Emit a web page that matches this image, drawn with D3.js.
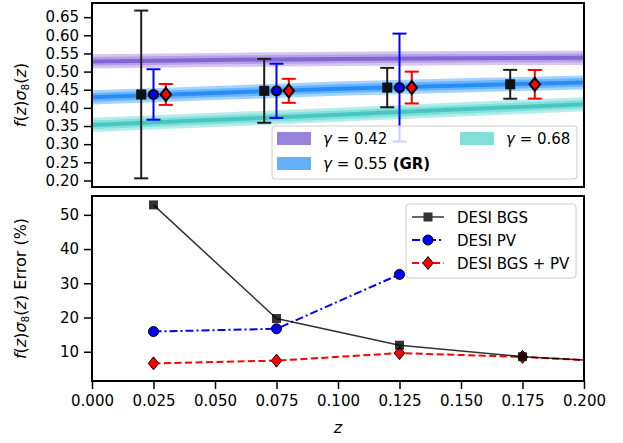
<!DOCTYPE html>
<html><head><meta charset="utf-8">
<script src="https://cdn.jsdelivr.net/npm/d3@7"></script>
<style>body{margin:0;background:#fff}svg{font-family:"DejaVu Sans",sans-serif}</style>
</head><body><svg id="c" width="623" height="443"></svg>
<script>
// ---------- data ----------
const zBins = [0.025, 0.075, 0.125, 0.175];
const fs8Fid = [0.437, 0.447, 0.456, 0.465];
const errBGS = [52.9, 19.7, 11.9, 8.55];      // %
const errPV = [15.9, 16.7, 32.6];            // %
const errBoth = [6.6, 7.4, 9.6, 8.5];        // %
const zBinsExt = [0.025, 0.075, 0.125, 0.175, 0.225];
const errBGSExt = [52.9, 19.7, 11.9, 8.55, 6.6];
const errBothExt = [6.6, 7.4, 9.6, 8.5, 6.6];
const zBand = [0, 0.05, 0.1, 0.15, 0.2];
const band042 = [0.528, 0.532, 0.535, 0.537, 0.538];
const band055 = [0.429, 0.441, 0.453, 0.462, 0.470];
const band068 = [0.353, 0.367, 0.381, 0.396, 0.410];
const bandHalfOuter = 0.0195, bandHalfMid = 0.012, bandHalfInner = 0.0055;
const xTicks = [0, 0.025, 0.05, 0.075, 0.1, 0.125, 0.15, 0.175, 0.2];
const yTicksTop = [0.20,0.25,0.30,0.35,0.40,0.45,0.50,0.55,0.60,0.65];
const yTicksBot = [10,20,30,40,50];
const offsets = {bgs:-0.005, pv:0, both:0.005};

// ---------- layout ----------
const L = 92, R = 584;
const top1 = 3, bot1 = 187, top2 = 196, bot2 = 381;
const svg = d3.select("#c");
const x = d3.scaleLinear().domain([0, 0.2]).range([L, R]);
const yT = d3.scaleLinear().domain([0.182, 0.689]).range([bot1, top1]);
const yB = d3.scaleLinear().domain([1.45, 55.5]).range([bot2, top2]);
const FS = 15;

const defs = svg.append("defs");
defs.append("clipPath").attr("id","cp1").append("rect").attr("x",L).attr("y",top1).attr("width",R-L).attr("height",bot1-top1);
defs.append("clipPath").attr("id","cp2").append("rect").attr("x",L).attr("y",top2).attr("width",R-L).attr("height",bot2-top2);

// ---------- top panel ----------
const g1 = svg.append("g").attr("clip-path","url(#cp1)");
const bands = [
  {v: band042, base:"147,112,219", line:"#7459cc"},
  {v: band055, base:"30,144,255", line:"#1a82f5"},
  {v: band068, base:"72,209,204", line:"#38c0b6"}
];
bands.forEach(b => {
  const pts = zBand.map((z,i)=>({z, v:b.v[i]}));
  [[bandHalfOuter,0.4],[bandHalfMid,0.45]].forEach(([h,a]) => {
    g1.append("path").datum(pts)
      .attr("d", d3.area().x(d=>x(d.z)).y0(d=>yT(d.v-h)).y1(d=>yT(d.v+h)))
      .attr("fill",`rgba(${b.base},${a})`);
  });
  g1.append("path").datum(pts)
    .attr("d", d3.area().x(d=>x(d.z)).y0(d=>yT(d.v-bandHalfInner)).y1(d=>yT(d.v+bandHalfInner)))
    .attr("fill", b.line).attr("opacity",0.8);
});

function errbar(g, zs, vals, errs, off, color, mk) {
  zs.forEach((z,i) => {
    if (errs[i] === undefined) return;
    const v = vals[i], e = v*errs[i]/100;
    const cx = x(z+off);
    g.append("line").attr("x1",cx).attr("x2",cx).attr("y1",yT(v-e)).attr("y2",yT(v+e)).attr("stroke",color).attr("stroke-width",2);
    [v-e, v+e].forEach(w => g.append("line").attr("x1",cx-7).attr("x2",cx+7).attr("y1",yT(w)).attr("y2",yT(w)).attr("stroke",color).attr("stroke-width",2));
    mk(g, cx, yT(v));
  });
}
const sq = (c,s)=> (g,cx,cy)=>g.append("rect").attr("x",cx-s/2).attr("y",cy-s/2).attr("width",s).attr("height",s).attr("fill",c);
const circ = (c,r,sw)=> (g,cx,cy)=>g.append("circle").attr("cx",cx).attr("cy",cy).attr("r",r).attr("fill",c).attr("stroke","#000").attr("stroke-width",sw);
const diam = (c,h,sw)=> (g,cx,cy)=>g.append("path").attr("d",`M${cx},${cy-h}L${cx+h*0.8},${cy}L${cx},${cy+h}L${cx-h*0.8},${cy}Z`).attr("fill",c).attr("stroke","#000").attr("stroke-width",sw);

const gE = svg.append("g").attr("clip-path","url(#cp1)");
errbar(gE, zBins, fs8Fid, errBGS, offsets.bgs, "#1e1e1e", sq("#111",10));
errbar(gE, zBins, fs8Fid, errPV, offsets.pv, "#0000ff", circ("#0000ff",4.5,2));
errbar(gE, zBins, fs8Fid, errBoth, offsets.both, "#ff0000", diam("#ff0000",6.5,2));

// top legend
const lg1 = svg.append("g");
lg1.append("rect").attr("x",272).attr("y",126).attr("width",305).attr("height",53).attr("rx",3)
  .attr("fill","rgba(255,255,255,0.8)").attr("stroke","#cccccc").attr("stroke-width",1);
const legTop = [
  {px:277, py:132, col:"#9783d9", tx:323, val:"0.42"},
  {px:277, py:157, col:"#63b1fb", tx:323, val:"0.55", gr:true},
  {px:460, py:132, col:"#80dfd9", tx:506, val:"0.68"}
];
legTop.forEach(d => {
  lg1.append("rect").attr("x",d.px).attr("y",d.py).attr("width",34).attr("height",13).attr("fill",d.col);
  const t = lg1.append("text").attr("x",d.tx).attr("y",d.py+11.5).attr("font-size",FS);
  t.append("tspan").attr("font-style","italic").text("γ");
  t.append("tspan").text(" = " + d.val);
  if (d.gr) t.append("tspan").attr("font-weight","bold").text(" (GR)");
});

// top frame & axis
const ax1 = svg.append("g").attr("transform",`translate(${L},0)`)
  .call(d3.axisLeft(yT).tickValues(yTicksTop).tickFormat(d3.format(".2f")).tickSize(8).tickPadding(5));
ax1.select(".domain").remove();
ax1.selectAll(".tick line").attr("stroke-width",1.5);
ax1.selectAll("text").attr("font-size",FS).attr("font-family","DejaVu Sans").attr("fill","#000");
svg.append("rect").attr("x",L).attr("y",top1).attr("width",R-L).attr("height",bot1-top1).attr("fill","none").attr("stroke","#000").attr("stroke-width",2);

// ---------- bottom panel ----------
const g2 = svg.append("g").attr("clip-path","url(#cp2)");
const lineGen = (xs) => d3.line().x((d,i)=>x(xs[i])).y(d=>yB(d));
g2.append("path").datum(errBothExt).attr("d", lineGen(zBinsExt)).attr("fill","none").attr("stroke","#ff0000").attr("stroke-width",2).attr("stroke-dasharray","7,3.5");
g2.append("path").datum(errPV).attr("d", lineGen(zBins)).attr("fill","none").attr("stroke","#0000ff").attr("stroke-width",2).attr("stroke-dasharray","8,3,2,3");
errBoth.forEach((v,i)=>diam("#ff0000",6.5,1)(g2, x(zBins[i]), yB(v)));
errPV.forEach((v,i)=>circ("#0000ff",5,1)(g2, x(zBins[i]), yB(v)));
g2.append("path").datum(errBGSExt).attr("d", lineGen(zBinsExt)).attr("fill","none").attr("stroke","#000").attr("stroke-opacity",0.8).attr("stroke-width",1.5);
errBGS.forEach((v,i)=>sq("#000",9)(g2, x(zBins[i]), yB(v)).attr("opacity",0.8));

// bottom legend
const lg2 = svg.append("g");
lg2.append("rect").attr("x",406).attr("y",204).attr("width",170).attr("height",74).attr("rx",3)
  .attr("fill","rgba(255,255,255,0.8)").attr("stroke","#cccccc").attr("stroke-width",1);
const legBot = [
  {y:217, label:"DESI BGS", stroke:"#333", dash:null, w:1.5, mk: sq("#333",9)},
  {y:240, label:"DESI PV", stroke:"#0000ff", dash:"8,3,2,3", w:2, mk: circ("#0000ff",5,1)},
  {y:263, label:"DESI BGS + PV", stroke:"#ff0000", dash:"7,3.5", w:2, mk: diam("#ff0000",6.5,1)}
];
legBot.forEach(d => {
  lg2.append("line").attr("x1",412).attr("x2",444).attr("y1",d.y).attr("y2",d.y).attr("stroke",d.stroke).attr("stroke-width",d.w).attr("stroke-dasharray",d.dash);
  d.mk(lg2, 428, d.y);
  lg2.append("text").attr("x",457).attr("y",d.y+5.5).attr("font-size",FS).text(d.label);
});

const ax2 = svg.append("g").attr("transform",`translate(${L},0)`)
  .call(d3.axisLeft(yB).tickValues(yTicksBot).tickFormat(d3.format("d")).tickSize(8).tickPadding(5));
ax2.select(".domain").remove();
ax2.selectAll(".tick line").attr("stroke-width",1.5);
ax2.selectAll("text").attr("font-size",FS).attr("font-family","DejaVu Sans").attr("fill","#000");
const ax3 = svg.append("g").attr("transform",`translate(0,${bot2})`)
  .call(d3.axisBottom(x).tickValues(xTicks).tickFormat(d3.format(".3f")).tickSize(8).tickPadding(6));
ax3.select(".domain").remove();
ax3.selectAll(".tick line").attr("stroke-width",1.5);
ax3.selectAll("text").attr("font-size",FS).attr("font-family","DejaVu Sans").attr("fill","#000");
svg.append("rect").attr("x",L).attr("y",top2).attr("width",R-L).attr("height",bot2-top2).attr("fill","none").attr("stroke","#000").attr("stroke-width",2);

// axis labels
svg.append("text").attr("x",(L+R)/2).attr("y",433).attr("text-anchor","middle").attr("font-size",FS+1).attr("font-style","italic").text("z");
function fs8Label(t) {
  t.append("tspan").attr("font-style","italic").text("f");
  t.append("tspan").text("(");
  t.append("tspan").attr("font-style","italic").text("z");
  t.append("tspan").text(")");
  t.append("tspan").attr("font-style","italic").text("σ");
  t.append("tspan").attr("font-size",FS*0.7).attr("dy",3).text("8");
  t.append("tspan").attr("dy",-3).text("(");
  t.append("tspan").attr("font-style","italic").text("z");
  t.append("tspan").text(")");
}
const yl1 = svg.append("text").attr("transform",`translate(26,${(top1+bot1)/2}) rotate(-90)`).attr("text-anchor","middle").attr("font-size",FS+1);
fs8Label(yl1);
const yl2 = svg.append("text").attr("transform",`translate(26,${(top2+bot2)/2}) rotate(-90)`).attr("text-anchor","middle").attr("font-size",FS+1);
fs8Label(yl2);
yl2.append("tspan").text(" Error (%)");
</script></body></html>
